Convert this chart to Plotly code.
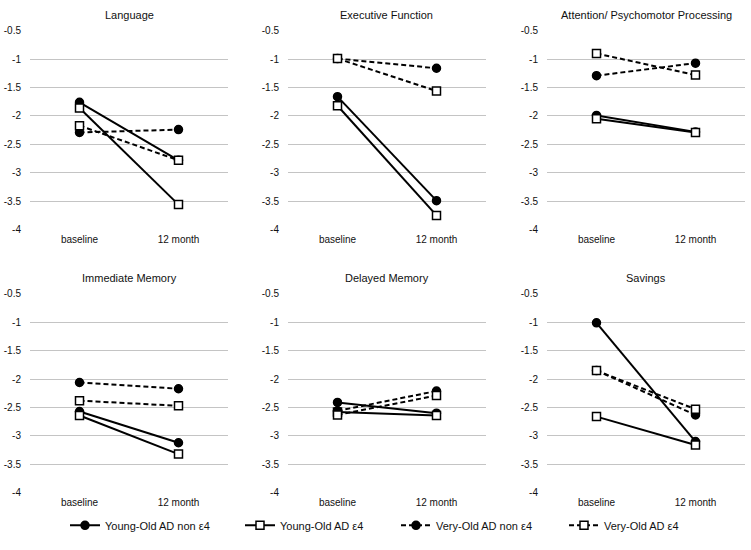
import plotly.graph_objects as go

categories = ["baseline", "12 month"]
panels = ["Language", "Executive Function", "Attention/ Psychomotor Processing",
          "Immediate Memory", "Delayed Memory", "Savings"]
series_names = ["Young-Old AD non ε4", "Young-Old AD ε4", "Very-Old AD non ε4", "Very-Old AD ε4"]

young_non_e4 = [[-1.76, -2.78], [-1.66, -3.49], [-1.99, -2.28], [-2.57, -3.12], [-2.41, -2.60], [-1.01, -3.10]]
young_e4     = [[-1.86, -3.56], [-1.82, -3.75], [-2.05, -2.29], [-2.64, -3.32], [-2.58, -2.64], [-2.66, -3.16]]
very_non_e4  = [[-2.29, -2.24], [-0.99, -1.16], [-1.29, -1.07], [-2.06, -2.17], [-2.56, -2.21], [-1.85, -2.63]]
very_e4      = [[-2.17, -2.78], [-0.99, -1.56], [-0.90, -1.28], [-2.38, -2.47], [-2.63, -2.29], [-1.85, -2.53]]
y_ticks = [-0.5, -1, -1.5, -2, -2.5, -3, -3.5, -4]

W, H = 751, 550
FONT = "Liberation Sans, Arial, sans-serif"
TXT = "#111"

# panel pixel boxes (x0, x1) and (ytop, ybottom)
xboxes = [(30, 228), (288, 486), (547, 745)]
yboxes = [(26, 229), (294, 497)]

styles = [
    dict(dash="solid", symbol="circle", fill="black", size=8),
    dict(dash="solid", symbol="square", fill="white", size=8),
    dict(dash="5px,3px", symbol="circle", fill="black", size=8),
    dict(dash="5px,3px", symbol="square", fill="white", size=8),
]
all_series = [young_non_e4, young_e4, very_non_e4, very_e4]

fig = go.Figure()
layout = dict(width=W, height=H, autosize=False, margin=dict(l=0, r=0, t=0, b=0),
              paper_bgcolor="white", plot_bgcolor="white",
              font=dict(family=FONT, size=10, color=TXT))
annotations = []
for p in range(6):
    r, c = divmod(p, 3)
    x0, x1 = xboxes[c]
    yt, yb = yboxes[r]
    xa = "xaxis" if p == 0 else f"xaxis{p+1}"
    ya = "yaxis" if p == 0 else f"yaxis{p+1}"
    xr = "x" if p == 0 else f"x{p+1}"
    yr = "y" if p == 0 else f"y{p+1}"
    layout[xa] = dict(domain=[x0 / W, x1 / W], anchor=yr, type="category",
                      categoryorder="array", categoryarray=categories,
                      range=[-0.5, 1.5], showgrid=False, zeroline=False,
                      showline=False, ticks="", ticklen=0, ticklabelstandoff=2,
                      tickfont=dict(size=10, color=TXT), fixedrange=True)
    layout[ya] = dict(domain=[1 - yb / H, 1 - yt / H], anchor=xr,
                      range=[-4.004, -0.496], tickvals=y_ticks,
                      ticktext=[str(v) for v in y_ticks],
                      showgrid=True, gridcolor="#c4c4c4", gridwidth=1,
                      zeroline=False, showline=False, ticks="", ticklen=0,
                      ticklabelstandoff=8,
                      tickfont=dict(size=10, color=TXT), fixedrange=True)
    annotations.append(dict(text=panels[p], x=(x0 + x1) / 2 / W, y=1 - (yt - 16) / H,
                            xref="paper", yref="paper", showarrow=False,
                            xanchor="center", yanchor="middle",
                            font=dict(size=11, color=TXT, family=FONT)))
    for s, data in enumerate(all_series):
        st = styles[s]
        fig.add_trace(go.Scatter(
            x=categories, y=data[p], xaxis=xr, yaxis=yr, mode="lines+markers",
            name=series_names[s],
            line=dict(color="black", width=2, dash=st["dash"]),
            marker=dict(symbol=st["symbol"], size=st["size"], color=st["fill"],
                        line=dict(color="black", width=1.5)),
            showlegend=(p == 0),
            legend="legend" if s == 0 else f"legend{s+1}",
        ))

text_starts = [105, 280, 436, 604]
for s in range(4):
    key = "legend" if s == 0 else f"legend{s+1}"
    layout[key] = dict(x=(text_starts[s] - 40) / W, y=1 - 530 / H, xanchor="left",
                       yanchor="middle", orientation="h", bgcolor="rgba(0,0,0,0)",
                       font=dict(size=11, color=TXT, family=FONT),
                       itemwidth=30, tracegroupgap=0)
layout["annotations"] = annotations
fig.update_layout(**layout)
fig.write_html("out.html", config={"displayModeBar": False},
               post_script="document.body.style.margin='0';")
